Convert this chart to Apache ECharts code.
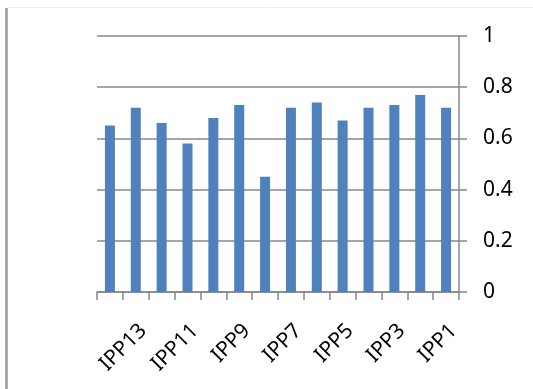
<!DOCTYPE html>
<html>
<head>
<meta charset="utf-8">
<style>
  html, body { margin: 0; padding: 0; background: #ffffff; }
  #chart { width: 533px; height: 389px; }
</style>
<script src="https://cdn.jsdelivr.net/npm/echarts@6/dist/echarts.min.js"></script>
</head>
<body>
<div id="chart"></div>
<script>
// Categories in left-to-right order
const categories = ['IPP14', 'IPP13', 'IPP12', 'IPP11', 'IPP10', 'IPP9', 'IPP8',
                    'IPP7', 'IPP6', 'IPP5', 'IPP4', 'IPP3', 'IPP2', 'IPP1'];
const values = [0.65, 0.72, 0.66, 0.58, 0.68, 0.73, 0.45,
                0.72, 0.74, 0.67, 0.72, 0.73, 0.77, 0.72];
const yMin = 0;
const yMax = 1;
const yStep = 0.2;

const axisGray = '#878787';
const font = 'Noto Sans';

const chart = echarts.init(document.getElementById('chart'), null, { renderer: 'canvas' });

chart.setOption({
  animation: false,
  backgroundColor: '#ffffff',
  grid: { left: 97, right: 74, top: 36, bottom: 97, containLabel: false },
  xAxis: {
    type: 'category',
    data: categories,
    boundaryGap: true,
    axisLine: { show: true, lineStyle: { color: axisGray, width: 1.5 } },
    axisTick: { show: true, length: 8, interval: 0, lineStyle: { color: axisGray, width: 1.5 } },
    axisLabel: {
      interval: (i) => i % 2 === 1,
      rotate: 45,
      margin: 28,
      verticalAlign: 'top',
      color: '#000000',
      fontFamily: font,
      fontSize: 21
    },
    splitLine: { show: false }
  },
  yAxis: {
    type: 'value',
    position: 'right',
    min: yMin,
    max: yMax,
    interval: yStep,
    axisLine: { show: true, lineStyle: { color: axisGray, width: 1.5 } },
    axisTick: { show: true, length: 8, lineStyle: { color: axisGray, width: 1.5 } },
    axisLabel: {
      margin: 24,
      color: '#000000',
      fontFamily: font,
      fontSize: 21,
      formatter: (v) => String(Math.round(v * 10) / 10)
    },
    splitLine: { show: true, lineStyle: { color: axisGray, width: 1.5 } }
  },
  series: [{
    type: 'bar',
    data: values,
    barWidth: 10,
    itemStyle: { color: '#4F81BD' }
  }],
  graphic: [
    // outer frame edges of the chart area
    { type: 'line', shape: { x1: 6.5, y1: 8, x2: 6.5, y2: 389 },
      style: { stroke: '#9a9a9a', lineWidth: 2.5 }, silent: true },
    { type: 'line', shape: { x1: 8, y1: 7.5, x2: 533, y2: 7.5 },
      style: { stroke: '#eeeeee', lineWidth: 1 }, silent: true }
  ]
});
</script>
</body>
</html>
